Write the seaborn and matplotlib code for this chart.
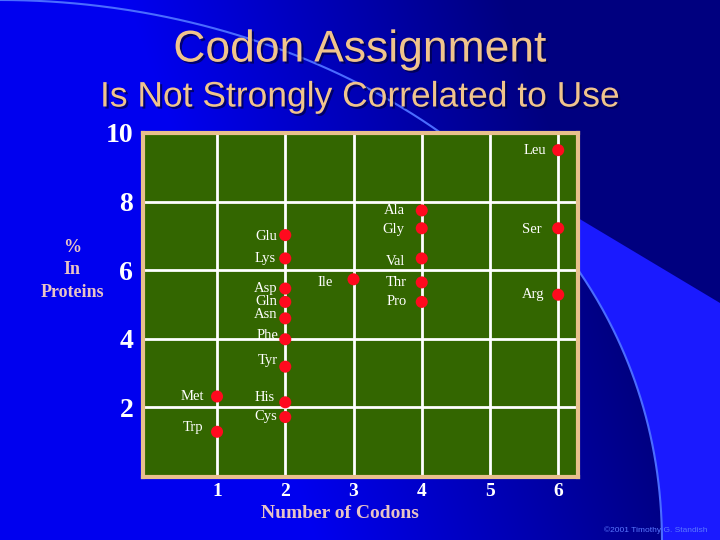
import numpy as np
import pandas as pd
import matplotlib
matplotlib.use("Agg")
import matplotlib.pyplot as plt
import matplotlib.patheffects as pe
import seaborn as sns

# amino acid, number of codons, % in proteins
amino = ["Leu", "Ala", "Gly", "Ser", "Glu", "Lys", "Val", "Ile", "Thr", "Asp",
         "Arg", "Gln", "Pro", "Asn", "Phe", "Tyr", "Met", "His", "Cys", "Trp"]
codons = [6, 4, 4, 6, 2, 2, 4, 3, 4, 2,
          6, 2, 4, 2, 2, 2, 1, 2, 2, 1]
percent = [9.5, 7.74, 7.22, 7.22, 7.02, 6.34, 6.34, 5.73, 5.64, 5.46,
           5.28, 5.07, 5.07, 4.59, 3.98, 3.18, 2.31, 2.14, 1.71, 1.28]

x_ticks = [1, 2, 3, 4, 5, 6]
y_ticks = [2, 4, 6, 8, 10]

df = pd.DataFrame({"amino": amino, "codons": codons, "percent": percent})

# label offsets in pixels (dx, dy) so the names sit like on the slide
offsets = {"Leu": (-12, 0), "Ala": (-17, 0), "Gly": (-17, -1), "Ser": (-17, -1),
           "Glu": (-8, -1), "Lys": (-10, 0), "Val": (-17, -3), "Ile": (-21, -3),
           "Thr": (-15, 0), "Asp": (-8, 0), "Arg": (-14, 0), "Gln": (-8, 0),
           "Pro": (-15, 0), "Asn": (-8, 4), "Phe": (-7, 4), "Tyr": (-7, 6),
           "Met": (-13, 0), "His": (-11, 5), "Cys": (-8, 1), "Trp": (-14, 4)}

W, H = 720, 540
fig = plt.figure(figsize=(7.2, 5.4), dpi=100)

# background: blue gradient, bright wedge and the faint arc
bg = fig.add_axes([0, 0, 1, 1])
xx, yy = np.meshgrid(np.arange(W), np.arange(H))
t = np.clip((xx + 0.35 * (270 - yy) - 220) / 380, 0, 1)
bright = np.array([0.0, 0.0, 0.94])
navy = np.array([0.0, 0.0, 0.50])
img = bright * (1 - t[..., None]) + navy * t[..., None]
bg.imshow(img, extent=[0, W, H, 0], aspect="auto")

# decorative arc as a cubic bezier
s = np.linspace(0, 1, 400)[:, None]
p0, p1, p2, p3 = [np.array(p, dtype=float) for p in [(0, 0), (330, 0), (660, 200), (662, 540)]]
curve = (1 - s) ** 3 * p0 + 3 * (1 - s) ** 2 * s * p1 + 3 * (1 - s) * s ** 2 * p2 + s ** 3 * p3
arc_x, arc_y = curve[:, 0], curve[:, 1]
sel = arc_x > 578
wx = np.concatenate([[578, 720, 720], arc_x[sel][::-1]])
wy = np.concatenate([[218, 303, 540], arc_y[sel][::-1]])
bg.fill(wx, wy, color="#1a1aff", lw=0)
bg.plot(arc_x, arc_y, color="#4a6cff", lw=1.5)
bg.set_xlim(0, W)
bg.set_ylim(H, 0)
bg.axis("off")

# main plot
ax = fig.add_axes([143 / W, 1 - 477 / H, (578 - 143) / W, (477 - 133) / H])
ax.set_facecolor("#336600")
ax.grid(True, color="white", lw=2)
ax.set_axisbelow(True)
sns.scatterplot(data=df, x="codons", y="percent", ax=ax, color="#ff0a1e",
                s=75, edgecolor="none", zorder=3)

for a, cx, py in zip(amino, codons, percent):
    dx, dy = offsets[a]
    ax.annotate(a, (cx, py), xytext=(dx, dy), textcoords="offset pixels",
                ha="right", va="center", color="white", fontsize=10.5,
                family="Liberation Serif", zorder=4)

ax.set_xlim(-0.085, 6.29)
ax.set_ylim(-0.04, 10.0)
ax.set_xticks(x_ticks)
ax.set_yticks(y_ticks)
ax.set_xticklabels([str(v) for v in x_ticks], color="white", fontsize=14,
                   fontweight="bold", family="Liberation Serif")
ax.set_yticklabels([str(v) for v in y_ticks], color="white", fontsize=20,
                   fontweight="bold", family="Liberation Serif")
ax.tick_params(axis="x", length=0, pad=4)
ax.tick_params(axis="y", length=0, pad=7)
ax.set_xlabel("")
ax.set_ylabel("")
for sp in ax.spines.values():
    sp.set_color("#e8c08c")
    sp.set_linewidth(3)

# titles and axis labels
tan = "#f0c48c"
pink = "#e8c4c4"
shadow = [pe.SimplePatchShadow(offset=(1.5, -1.5), shadow_rgbFace="#000040", alpha=0.7),
          pe.Normal()]
fig.text(360 / W, 1 - 50 / H, "Codon Assignment", ha="center", va="center",
         color=tan, fontsize=32, family="Liberation Sans", path_effects=shadow)
fig.text(360 / W, 1 - 97 / H, "Is Not Strongly Correlated to Use", ha="center",
         va="center", color=tan, fontsize=25.5, family="Liberation Sans",
         path_effects=shadow)
fig.text(340 / W, 1 - 514 / H, "Number of Codons", ha="center", va="center",
         color=pink, fontsize=14, fontweight="bold", family="Liberation Serif")
fig.text(72 / W, 1 - 270 / H, "%\nIn\nProteins", ha="center", va="center",
         color=pink, fontsize=13, fontweight="bold", family="Liberation Serif",
         linespacing=1.45)
fig.text(708 / W, 1 - 530 / H, "\u00a92001 Timothy G. Standish", ha="right",
         va="center", color="#5a78ff", fontsize=6, family="Liberation Sans")

fig.savefig("out.png", dpi=100)
